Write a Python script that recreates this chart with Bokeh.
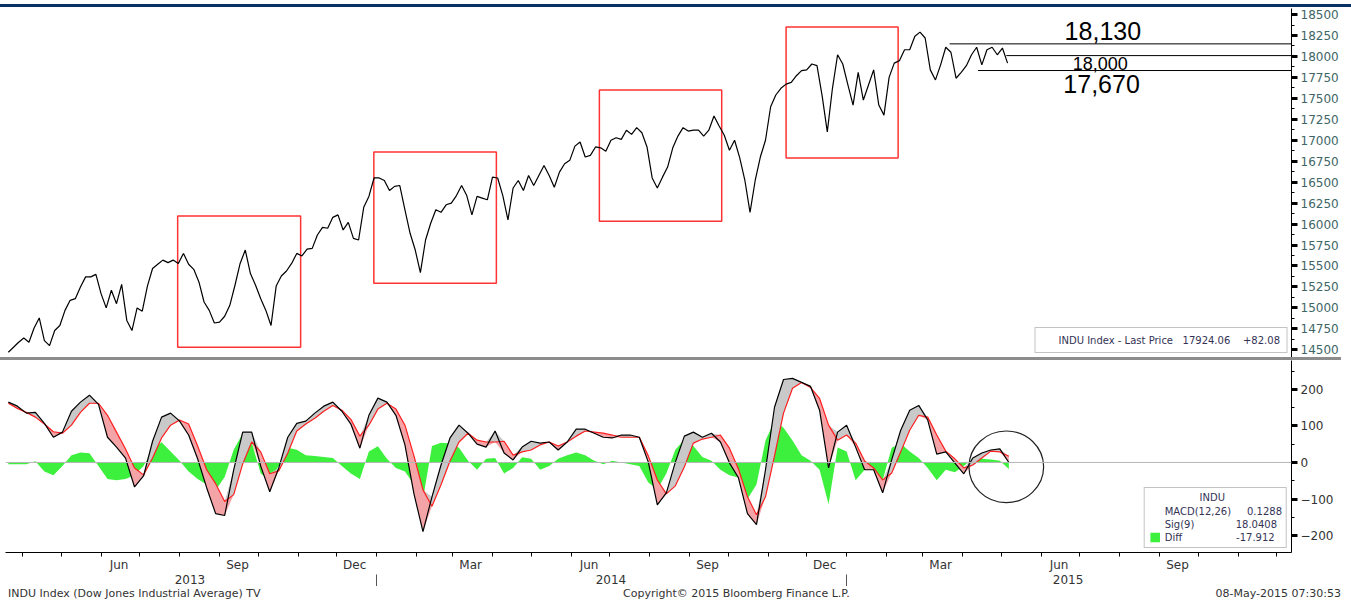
import numpy as np
import pandas as pd
from bokeh.plotting import figure
from bokeh.models import (Range1d, FixedTicker, CustomJSTickFormatter, LinearAxis, Label,
                          Legend, LegendItem, ColumnDataSource, Div, Span)
from bokeh.layouts import column
from bokeh.embed import file_html
from bokeh.resources import INLINE

# ---------------- data ----------------
price_values = [
    14470, 14530, 14590, 14640, 14590, 14760, 14880, 14610, 14550, 14730,
    14790, 14970, 15090, 15110, 15250, 15370, 15370, 15400, 15170, 15000,
    15210, 15050, 15280, 14850, 14730, 15000, 14960, 15260, 15470, 15520,
    15570, 15540, 15570, 15530, 15650, 15520, 15460, 15310, 15070, 14970,
    14820, 14830, 14900, 15030, 15270, 15530, 15690, 15410, 15270, 15110,
    14970, 14790, 15260, 15380, 15440, 15530, 15650, 15620, 15700, 15710,
    15870, 15960, 15950, 16080, 16110, 15930, 16020, 15830, 15810, 16200,
    16330, 16550, 16550, 16520, 16400, 16450, 16460, 16170, 15890, 15690,
    15420, 15810, 16010, 16170, 16140, 16230, 16250, 16340, 16460, 16340,
    16110, 16330, 16310, 16290, 16560, 16550, 16340, 16050, 16430, 16520,
    16400, 16580, 16460, 16580, 16700, 16580, 16440, 16620, 16720, 16760,
    16930, 16980, 16800, 16820, 16920, 16910, 16870, 17000, 17030, 17010,
    17120, 17070, 17150, 17090, 16920, 16550, 16430, 16560, 16680, 16910,
    17050, 17150, 17110, 17120, 17120, 17050, 17120, 17290, 17170, 17060,
    16880, 17000, 16790, 16520, 16140, 16520, 16800, 17000, 17400, 17540,
    17620, 17670, 17690, 17770, 17830, 17840, 17910, 17890, 17530, 17100,
    17620, 18020, 17910, 17660, 17420, 17810, 17480, 17660, 17840, 17420,
    17300, 17750, 17920, 17950, 18080, 18080, 18240, 18290, 18220, 17840,
    17720, 17900, 18110, 18050, 17740, 17810, 17890, 18020, 18110, 17900,
    18080, 18110, 18020, 18100, 17920,
]
price_dates = pd.date_range("2013-03-21", periods=len(price_values), freq="4D")

macd_values = [
    165, 154, 135, 137, 107, 69, 83, 140, 165, 184,
    159, 69, 42, 12, -67, -37, 58, 124, 135, 113,
    75, 10, -69, -140, -145, -20, 83, 83, -10, -80,
    -15, 69, 107, 113, 135, 154, 165, 140, 105, 39,
    129, 176, 165, 129, 48, -86, -189, -94, -7, 67,
    102, 80, 50, 42, 86, 26, 7, 42, 58, 53,
    56, 34, 56, 91, 91, 80, 69, 67, 75, 75,
    69, 1, -116, -83, 1, 72, 83, 69, 80, 56,
    -1, -42, -140, -170, -20, 151, 227, 230, 219, 208,
    143, -15, 83, 102, 42, -20, -20, -83, 7, 88,
    143, 156, 116, 23, 29, -1, -31, 12, 26, 34,
    37, 0,
]
signal_values = [
    162, 148, 137, 124, 105, 84, 80, 102, 137, 162,
    162, 129, 83, 37, -15, -34, 12, 67, 102, 116,
    105, 45, -20, -58, -107, -88, -4, 56, 29, -31,
    -23, 26, 86, 105, 121, 140, 156, 143, 118, 72,
    102, 146, 162, 146, 102, 18, -75, -120, -61, 4,
    56, 80, 61, 56, 56, 58, 20, 29, 34, 48,
    56, 45, 56, 72, 86, 83, 80, 75, 69, 69,
    69, 18, -48, -86, -64, -12, 53, 64, 69, 75,
    39, -18, -94, -143, -94, 18, 135, 203, 219, 205,
    175, 102, 61, 75, 53, 4, -15, -48, -29, 29,
    88, 129, 124, 75, 31, 10, -15, -7, 12, 31,
    29, 17,
]
diff_values = [
    -5, -5, -5, 3, -25, -35, -10, 20, 27, 25,
    -10, -45, -49, -45, -35, -10, 35, 55, 30, 5,
    -25, -45, -60, -76, -40, 35, 79, 55, -30, -49,
    -10, 40, 35, 20, 18, 15, 12, -10, -30, -45,
    30, 44, 10, -15, -25, -60, -100, 45, 54, 52,
    40, 5, -20, 10, 12, -30, -15, 14, 10, -20,
    -10, 10, 20, 27, 20, 5, -5, 5, 0, -5,
    -10, -55, -73, -30, 35, 63, 45, 15, 5, -20,
    -35, -41, -100, -60, 60, 114, 95, 60, 20, 5,
    -20, -114, 41, 30, -49, -20, -15, -49, 40, 52,
    30, 12, -15, -49, -20, -27, -10, 10, 10, 8,
    5, -18,
]
macd_dates = pd.date_range("2013-03-21", periods=len(macd_values), freq="7D")

# highlighted boxes on the price panel
box_start = ["2013-07-30 12:00", "2013-12-29 20:00", "2014-06-23 00:00", "2014-11-15 00:00"]
box_end = ["2013-11-03 00:00", "2014-04-04 00:00", "2014-09-26 00:00", "2015-02-10 00:00"]
box_low = [14530, 15295, 16035, 16787]
box_high = [16095, 16859, 17599, 18351]

# price levels
level_values = [18150, 18010, 17832]
level_start = ["2015-03-22", "2015-05-05", "2015-04-13"]
level_text = ["18,130", "18,000", "17,670"]
level_text_date = ["2015-07-19", "2015-07-17", "2015-07-18"]
level_text_price = [18298, 17916, 17677]
level_text_size = ["25px", "18px", "25px"]

# circled zone on MACD panel
ellipse_date = "2015-05-05"
ellipse_value = -12
ellipse_days = 58
ellipse_span = 196

# axis labels
price_ticks = list(range(14500, 18501, 250))
macd_ticks = [-200, -100, 0, 100, 200]
month_label_dates = ["2013-06-15", "2013-09-15", "2013-12-15", "2014-03-15", "2014-06-15",
                     "2014-09-15", "2014-12-15", "2015-03-15", "2015-06-15", "2015-09-15"]
year_label_dates = ["2013-08-09", "2014-07-02", "2015-06-22"]
year_breaks = ["2014-01-01", "2015-01-01"]

legend_price = "INDU Index - Last Price\u00a0\u00a0\u00a017924.06\u00a0\u00a0\u00a0\u00a0+82.08"
legend_title = "\u00a0" * 16 + "INDU"
legend_macd = "MACD(12,26)" + "\u00a0" * 5 + "0.1288"
legend_sig = "Sig(9)" + "\u00a0" * 13 + "18.0408"
legend_diff = "Diff" + "\u00a0" * 17 + "-17.912"

footer_left = "INDU Index (Dow Jones Industrial Average) TV"
footer_mid = "Copyright\u00a9 2015 Bloomberg Finance L.P."
footer_right = "08-May-2015 07:30:53"


def ms(d):
    return pd.Timestamp(d).value / 1e6


def dts(lst):
    return [pd.Timestamp(d) for d in lst]


FONT = "DejaVu Sans"
x_start = pd.Timestamp("2013-03-18 19:00")
x_end = pd.Timestamp("2015-12-12 12:00")
xr = Range1d(start=x_start, end=x_end)

# ---------------- price panel ----------------
p1 = figure(width=1351, height=350, x_range=xr, y_range=Range1d(14408, 18572),
            x_axis_type="datetime", x_axis_location=None, y_axis_location="right",
            toolbar_location=None, output_backend="svg",
            min_border_left=5, min_border_right=60, min_border_top=1, min_border_bottom=0)
p1.outline_line_color = None
p1.xgrid.visible = False
p1.ygrid.visible = False

p1.quad(left=dts(box_start), right=dts(box_end), bottom=box_low, top=box_high,
        fill_color=None, line_color="#ff3333", line_width=1.5)
p1.segment(x0=dts(level_start), x1=[x_end] * len(level_values),
           y0=level_values, y1=level_values, line_color="black", line_width=1)
p1.line(price_dates, price_values, line_color="black", line_width=1.2)

for t, d, yv, fs in zip(level_text, level_text_date, level_text_price, level_text_size):
    p1.add_layout(Label(x=ms(d), y=yv, text=t, text_align="center", text_baseline="middle",
                        text_font="Liberation Sans", text_font_size=fs, text_color="black"))

ya = p1.yaxis[0]
ya.ticker = FixedTicker(ticks=price_ticks, minor_ticks=[v + 125 for v in price_ticks[:-1]])
ya.axis_line_color = "black"
ya.major_tick_out = 6
ya.major_tick_in = 0
ya.major_tick_line_width = 3
ya.minor_tick_out = 3
ya.minor_tick_in = 0
ya.major_label_standoff = 3
ya.major_label_text_font = FONT
ya.major_label_text_font_size = "12px"
ya.major_label_text_color = "#3e6666"

sq_price = p1.quad(left=[], right=[], top=[], bottom=[], fill_color="black", line_color="#555555")
leg1 = Legend(items=[LegendItem(label=legend_price, renderers=[sq_price])],
              location="bottom_right", margin=4, padding=6, spacing=1,
              glyph_width=12, glyph_height=12, label_height=12, label_standoff=5,
              label_text_font=FONT, label_text_font_size="10px", label_text_color="#333355",
              border_line_color="#888888", background_fill_alpha=1)
p1.add_layout(leg1)

# ---------------- MACD panel ----------------
p2 = figure(width=1351, height=226, x_range=xr, y_range=Range1d(-246.3, 278.9),
            x_axis_type="datetime", y_axis_location="right",
            toolbar_location=None, output_backend="svg",
            min_border_left=5, min_border_right=60, min_border_top=0, min_border_bottom=33)
p2.outline_line_color = None
p2.xgrid.visible = False
p2.ygrid.visible = False

macd = np.array(macd_values, dtype=float)
sig = np.array(signal_values, dtype=float)
diff = np.array(diff_values, dtype=float)
src = ColumnDataSource(dict(x=macd_dates, macd=macd, sig=sig,
                            up=np.maximum(macd, sig), dn=np.minimum(macd, sig),
                            diff=diff, zero=np.zeros_like(diff)))

hist = p2.varea(x="x", y1="zero", y2="diff", source=src, fill_color="#3df03d")
p2.add_layout(Span(location=0, dimension="width", line_color="#b5b5b5", line_width=1))
p2.varea(x="x", y1="sig", y2="up", source=src, fill_color="#c9c9c9")
p2.varea(x="x", y1="dn", y2="sig", source=src, fill_color="#f4a4a7")
p2.line(x="x", y="sig", source=src, line_color="#ff1f1f", line_width=1.2)
p2.line(x="x", y="macd", source=src, line_color="black", line_width=1.2)
p2.ellipse(x=[pd.Timestamp(ellipse_date)], y=[ellipse_value], width=[ellipse_days * 86400000],
           height=[ellipse_span], fill_color=None, line_color="#222222", line_width=1.2)

ya2 = p2.yaxis[0]
ya2.ticker = FixedTicker(ticks=macd_ticks, minor_ticks=[-250, -150, -50, 50, 150, 250])
ya2.axis_line_color = "black"
ya2.major_tick_out = 6
ya2.major_tick_in = 0
ya2.major_tick_line_width = 3
ya2.minor_tick_out = 3
ya2.minor_tick_in = 0
ya2.major_label_standoff = 3
ya2.major_label_text_font = FONT
ya2.major_label_text_font_size = "12px"
ya2.major_label_text_color = "#333333"

xa = p2.xaxis[0]
month_starts = pd.date_range("2013-04-01", "2015-12-01", freq="MS")
xa.ticker = FixedTicker(ticks=[ms(d) for d in month_label_dates],
                        minor_ticks=[ms(d) for d in month_starts])
xa.formatter = CustomJSTickFormatter(code="""
const m = ["Jan","Feb","Mar","Apr","May","Jun","Jul","Aug","Sep","Oct","Nov","Dec"];
return m[new Date(tick).getUTCMonth()];
""")
xa.axis_line_color = "black"
xa.major_tick_out = 0
xa.major_tick_in = 0
xa.minor_tick_out = 4
xa.minor_tick_in = 0
xa.major_label_standoff = 1
xa.major_label_text_font = FONT
xa.major_label_text_font_size = "12px"
xa.major_label_text_color = "#333333"

year_axis = LinearAxis(
    ticker=FixedTicker(ticks=[ms(d) for d in year_label_dates], minor_ticks=[ms(d) for d in year_breaks]),
    formatter=CustomJSTickFormatter(code="return String(new Date(tick).getUTCFullYear());"))
year_axis.axis_line_color = None
year_axis.major_tick_out = 0
year_axis.major_tick_in = 0
year_axis.minor_tick_out = 13
year_axis.minor_tick_in = 0
year_axis.minor_tick_line_color = "#555555"
year_axis.major_label_standoff = -13
year_axis.major_label_text_font = FONT
year_axis.major_label_text_font_size = "12px"
year_axis.major_label_text_color = "#333333"
p2.add_layout(year_axis, "below")

sq_macd = p2.quad(left=[], right=[], top=[], bottom=[], fill_color="black", line_color="#555555")
sq_sig = p2.quad(left=[], right=[], top=[], bottom=[], fill_color="#ff1f1f", line_color="#cc0000")
leg2 = Legend(items=[LegendItem(label=legend_macd, renderers=[sq_macd]),
                     LegendItem(label=legend_sig, renderers=[sq_sig]),
                     LegendItem(label=legend_diff, renderers=[hist])],
              title=legend_title, title_text_font=FONT, title_text_font_size="10px",
              title_text_font_style="normal", title_text_color="#333355", title_standoff=2,
              location="bottom_right", margin=4, padding=4, spacing=1,
              glyph_width=12, glyph_height=12, label_height=12, label_standoff=4,
              label_text_font=FONT, label_text_font_size="10px", label_text_color="#333355",
              border_line_color="#888888", background_fill_alpha=1)
p2.add_layout(leg2)

# ---------------- page pieces ----------------
navy = Div(text="", width=1351, height=3, margin=(4, 0, 0, 0), styles={"background-color": "#0b3163"})
sep = Div(text="", width=1341, height=3, margin=0, styles={"background-color": "#8c8c8c"})
footer_html = (
    '<div style="position:relative;width:1351px;height:17px;font-family:\'DejaVu Sans\';'
    'font-size:11px;color:#333;line-height:17px;white-space:nowrap;">'
    f'<span style="position:absolute;left:8px;top:-1px">{footer_left}</span>'
    f'<span style="position:absolute;left:623px;top:-1px">{footer_mid}</span>'
    f'<span style="position:absolute;right:10px;top:-1px">{footer_right}</span></div>'
)
footer = Div(text=footer_html, width=1351, height=17, margin=0)

layout = column(navy, p1, sep, p2, footer, spacing=0)

open("out.html", "w").write(file_html(layout, INLINE))
